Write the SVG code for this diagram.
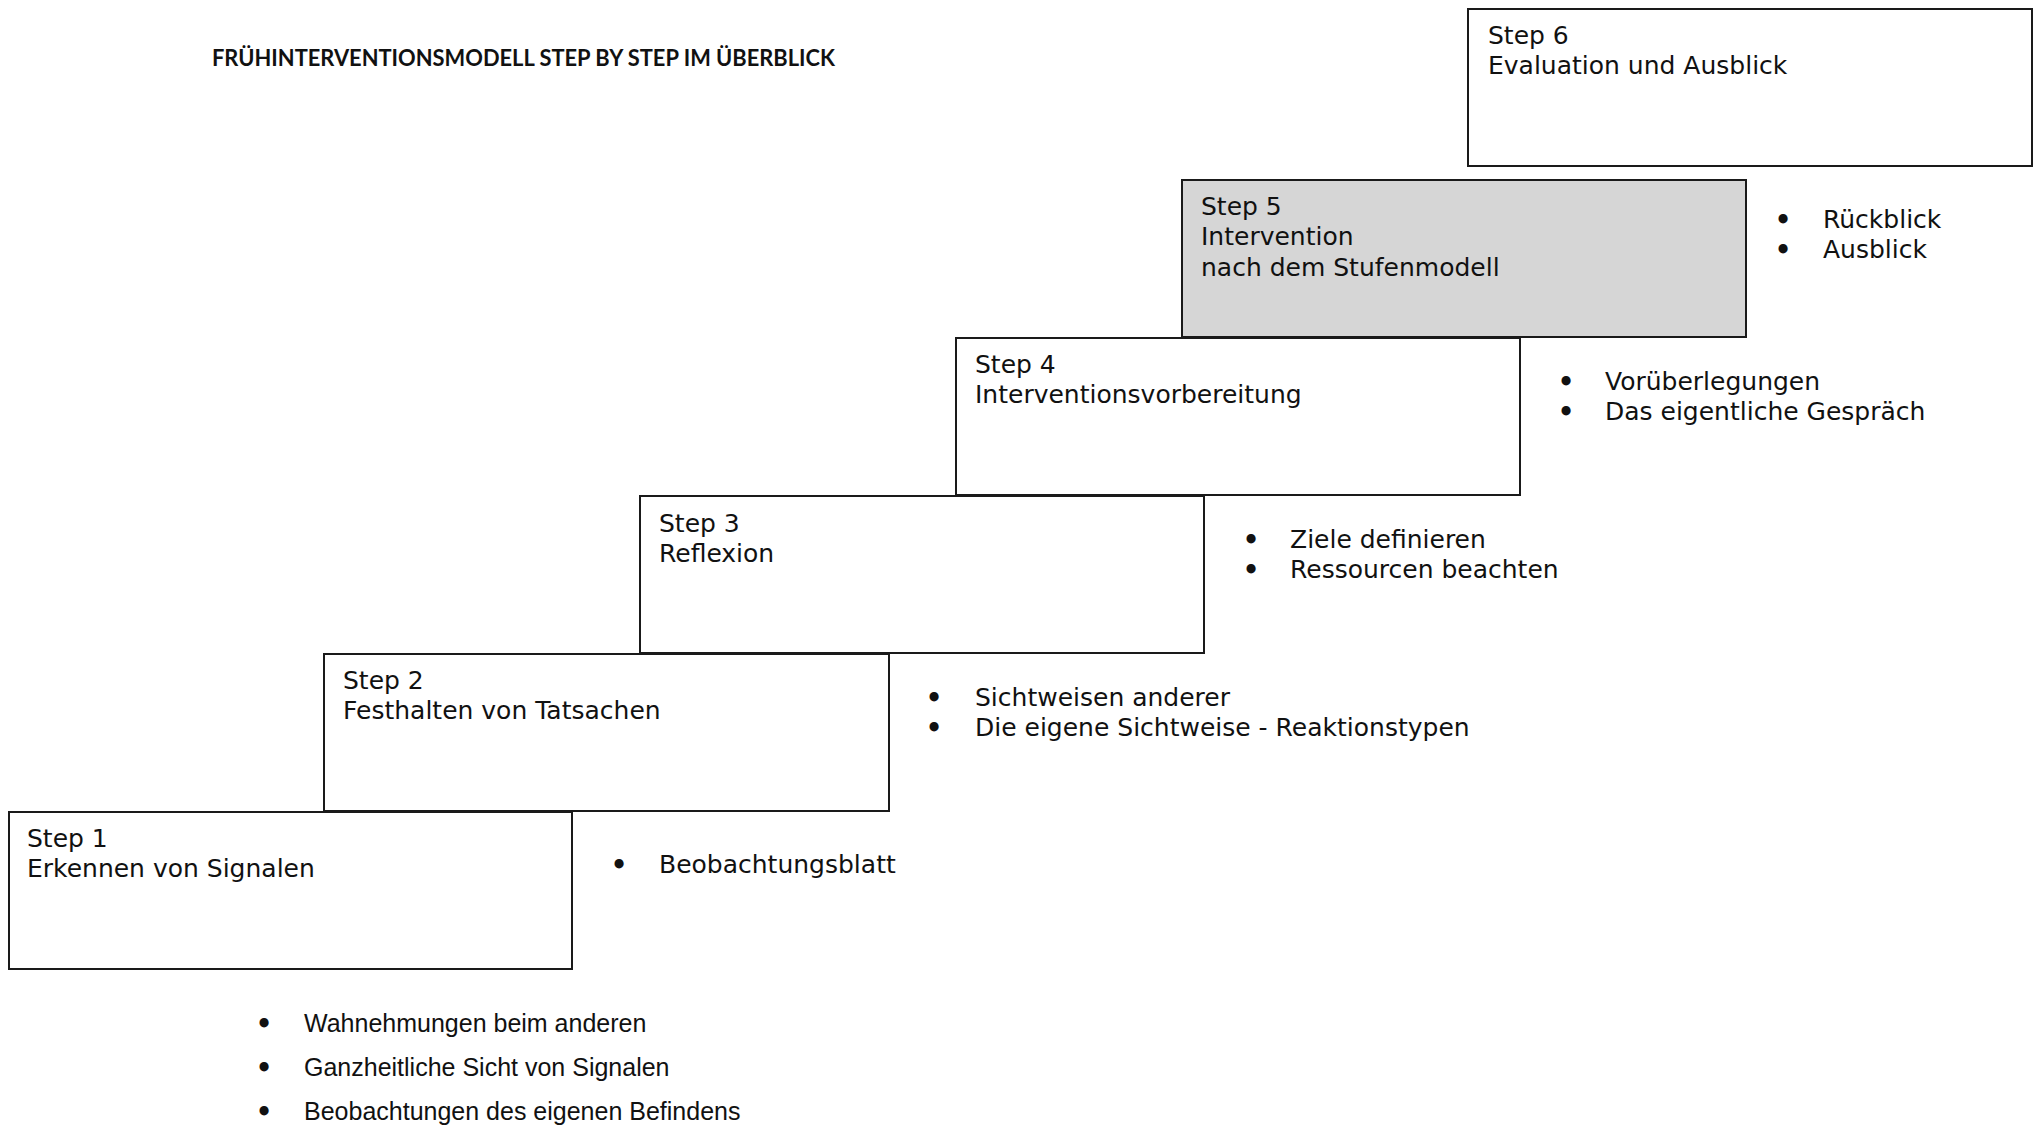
<svg xmlns="http://www.w3.org/2000/svg" width="2035" height="1128" viewBox="0 0 2035 1128">
<style>
.box{fill:#fff;stroke:#1a1a1a;stroke-width:2}
.hl{fill:#d6d6d6}
.t{font-family:"DejaVu Sans","Liberation Sans",sans-serif;font-size:25px;fill:#111}
.b{font-family:"DejaVu Sans","Liberation Sans",sans-serif;font-size:25px;fill:#111}
.dot{font-family:"DejaVu Sans",sans-serif;font-size:26px;font-weight:bold;fill:#111;text-anchor:middle}
.a{font-family:"Liberation Sans",Arial,sans-serif;font-size:25px;fill:#111}
.title{font-family:Lato,"Open Sans",sans-serif;font-weight:bold;font-size:23px;fill:#111}
</style>
<rect width="2035" height="1128" fill="#fff"/>
<text class="title" x="212" y="66" textLength="623" lengthAdjust="spacingAndGlyphs">FRÜHINTERVENTIONSMODELL STEP BY STEP IM ÜBERBLICK</text>

<g id="step6">
<rect class="box" x="1468" y="9" width="564" height="157"/>
<text class="t" x="1488" y="44">Step 6</text>
<text class="t" x="1488" y="74">Evaluation und Ausblick</text>
</g>

<g id="step5">
<rect class="box hl" x="1182" y="180" width="564" height="157"/>
<text class="t" x="1201" y="215">Step 5</text>
<text class="t" x="1201" y="245">Intervention</text>
<text class="t" x="1201" y="276">nach dem Stufenmodell</text>
</g>
<g id="step5-list">
<text class="dot" x="1783" y="229">•</text><text class="b" x="1823" y="228">Rückblick</text>
<text class="dot" x="1783" y="259">•</text><text class="b" x="1823" y="258">Ausblick</text>
</g>

<g id="step4">
<rect class="box" x="956" y="338" width="564" height="157"/>
<text class="t" x="975" y="373">Step 4</text>
<text class="t" x="975" y="403">Interventionsvorbereitung</text>
</g>
<g id="step4-list">
<text class="dot" x="1566" y="391">•</text><text class="b" x="1605" y="390">Vorüberlegungen</text>
<text class="dot" x="1566" y="421">•</text><text class="b" x="1605" y="420">Das eigentliche Gespräch</text>
</g>

<g id="step3">
<rect class="box" x="640" y="496" width="564" height="157"/>
<text class="t" x="659" y="532">Step 3</text>
<text class="t" x="659" y="562">Reflexion</text>
</g>
<g id="step3-list">
<text class="dot" x="1251" y="549">•</text><text class="b" x="1290" y="548">Ziele definieren</text>
<text class="dot" x="1251" y="579">•</text><text class="b" x="1290" y="578">Ressourcen beachten</text>
</g>

<g id="step2">
<rect class="box" x="324" y="654" width="565" height="157"/>
<text class="t" x="343" y="689">Step 2</text>
<text class="t" x="343" y="719">Festhalten von Tatsachen</text>
</g>
<g id="step2-list">
<text class="dot" x="934" y="707">•</text><text class="b" x="975" y="706">Sichtweisen anderer</text>
<text class="dot" x="934" y="737">•</text><text class="b" x="975" y="736">Die eigene Sichtweise - Reaktionstypen</text>
</g>

<g id="step1">
<rect class="box" x="9" y="812" width="563" height="157"/>
<text class="t" x="27" y="847">Step 1</text>
<text class="t" x="27" y="877">Erkennen von Signalen</text>
</g>
<g id="step1-list">
<text class="dot" x="619" y="874">•</text><text class="b" x="659" y="873">Beobachtungsblatt</text>
</g>

<g id="step1-details">
<text class="dot" x="264" y="1033">•</text><text class="a" x="304" y="1032">Wahnehmungen beim anderen</text>
<text class="dot" x="264" y="1077">•</text><text class="a" x="304" y="1076">Ganzheitliche Sicht von Signalen</text>
<text class="dot" x="264" y="1121">•</text><text class="a" x="304" y="1120">Beobachtungen des eigenen Befindens</text>
</g>
<g id="connectors"></g>
</svg>
